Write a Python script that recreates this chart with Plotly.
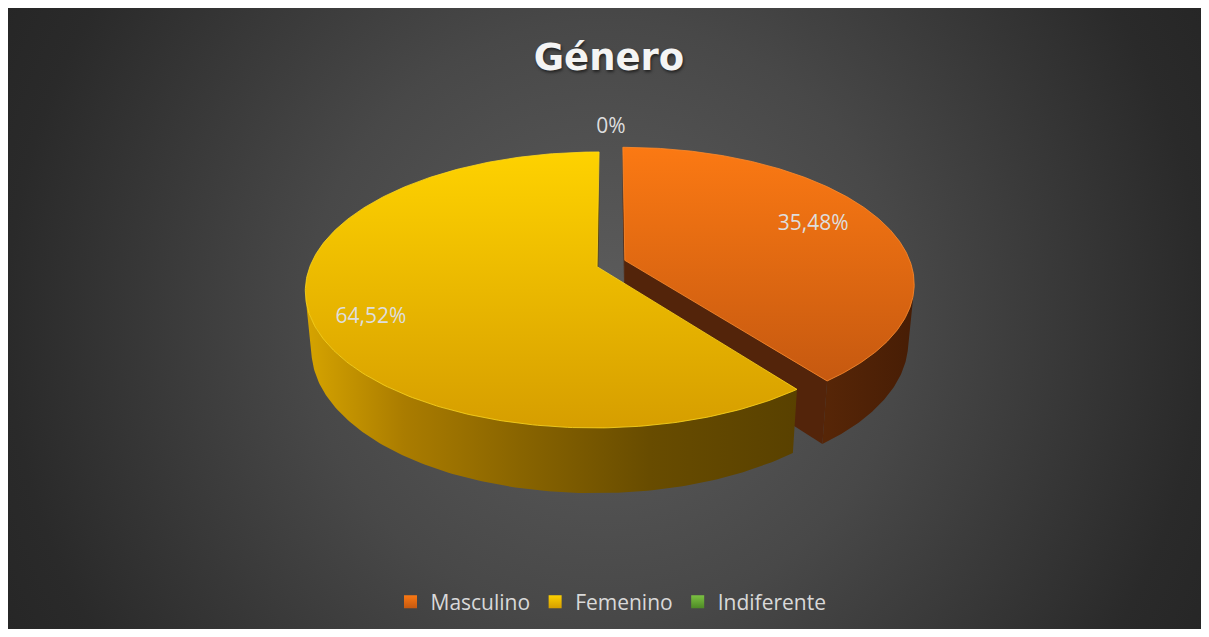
import base64
import numpy as np
import plotly.graph_objects as go

# ---------------- data ----------------
categories = ["Masculino", "Femenino", "Indiferente"]
values = [11, 20, 0]
title_text = "Género"

# ---------------- style ----------------
top_light = ["#fb7913", "#fed200", "#7cc242"]
top_dark = ["#c65910", "#d69e00", "#4e8a26"]
rim_color = ["#ff8a2a", "#ffd81a", "#8fd050"]
wall_scale = [
    [[0, "#572607"], [1, "#471d05"]],
    [[0, "#d6a400"], [0.2, "#aa7c00"], [0.45, "#876300"], [0.7, "#684c00"], [1, "#594100"]],
    [[0, "#3f6e1e"], [1, "#2c5014"]],
]
face_color = ["#53240a", "#5a4100", "#2c5014"]
label_radius = [0.75, 0.82, 1.18]
label_turn_deg = [4.0, 0.0, 0.0]

# page: the browser body keeps an 8px margin, so the figure is 1193x621 and
# the axes use screen pixel units (8..1201, 8..629)
OFF = 8
W, H = 1193, 621
CX, CY = 611.0, 263.5          # screen position of the pie centre
ALPHA = np.radians(27.2)        # viewing elevation
CA, SA = np.cos(ALPHA), np.sin(ALPHA)
DIST = 5.296                    # camera distance (in radii)
FOCY = 1541.0                   # vertical focal length (px)
FOCX = 1515.0                   # horizontal focal length (px)
THICK = 0.226                   # pie thickness (in radii)
EXPL = 0.054                    # explosion distance (in radii)
WARP = np.radians(18.6)         # Excel-like angular spread toward the front
CAM = np.array([0.0, -DIST * CA, DIST * SA])


def proj(X, Y, Z):
    X = np.asarray(X, float); Y = np.asarray(Y, float); Z = np.asarray(Z, float)
    depth = DIST + Y * CA - Z * SA
    up = Y * SA + Z * CA
    return CX + FOCX * X / depth, CY - FOCY * up / depth


def warp(t):
    return t + WARP * np.sin(t)


total = float(sum(values))
fracs = [v / total for v in values]
cum = np.concatenate([[0.0], np.cumsum(fracs)])
pct_text = []
for f in fracs:
    p = round(f * 100, 2)
    pct_text.append("0%" if p == 0 else (f"{p:.2f}%").replace(".", ","))

fig = go.Figure()

slices = []
for i, f in enumerate(fracs):
    a0, a1 = 2 * np.pi * cum[i], 2 * np.pi * cum[i + 1]
    mid = (a0 + a1) / 2
    ox, oy = EXPL * np.sin(mid), EXPL * np.cos(mid)
    slices.append(dict(i=i, a0=a0, a1=a1, mid=mid, ox=ox, oy=oy, f=f))

# draw far slices first
for sl in sorted([s for s in slices if s["f"] > 0], key=lambda s: -s["oy"]):
    i, ox, oy = sl["i"], sl["ox"], sl["oy"]
    p0, p1 = warp(sl["a0"]), warp(sl["a1"])
    th = np.linspace(p0, p1, 260)

    # outer wall (visible part)
    vis = (-1 - np.sin(th) * ox - np.cos(th) * (DIST * CA + oy)) > 0
    if vis.any():
        tv = th[vis]
        xt, yt = proj(ox + np.sin(tv), oy + np.cos(tv), 0 * tv)
        xb, yb = proj(ox + np.sin(tv), oy + np.cos(tv), 0 * tv - THICK)
        xs = np.concatenate([xt, xb[::-1], xt[:1]])
        ys = np.concatenate([yt, yb[::-1], yt[:1]])
        fig.add_trace(go.Scatter(
            x=xs, y=ys, mode="lines", fill="toself", line=dict(width=0),
            fillgradient=dict(type="horizontal", colorscale=wall_scale[i],
                              start=float(xs.min()), stop=float(xs.max())),
            hoverinfo="skip", showlegend=False))

    # radial cut faces
    for ang, sign in ((p0, -1), (p1, 1)):
        n = np.array([sign * np.cos(ang), -sign * np.sin(ang), 0.0])
        P = np.array([ox + 0.5 * np.sin(ang), oy + 0.5 * np.cos(ang), -THICK / 2])
        if np.dot(n, CAM - P) > 0:
            Xs = [ox, ox + np.sin(ang), ox + np.sin(ang), ox, ox]
            Ys = [oy, oy + np.cos(ang), oy + np.cos(ang), oy, oy]
            Zs = [0, 0, -THICK, -THICK, 0]
            fx, fy = proj(Xs, Ys, Zs)
            fig.add_trace(go.Scatter(
                x=fx, y=fy, mode="lines", fill="toself", line=dict(width=0),
                fillcolor=face_color[i], hoverinfo="skip", showlegend=False))

    # top face
    xt, yt = proj(ox + np.sin(th), oy + np.cos(th), 0 * th)
    cx0, cy0 = proj(ox, oy, 0)
    xs = np.concatenate([[cx0], xt, [cx0]])
    ys = np.concatenate([[cy0], yt, [cy0]])
    fig.add_trace(go.Scatter(
        x=xs, y=ys, mode="lines", fill="toself",
        line=dict(width=0.8, color=rim_color[i]),
        fillgradient=dict(type="vertical", colorscale=[[0, top_light[i]], [1, top_dark[i]]],
                          start=float(ys.min()), stop=float(ys.max())),
        hoverinfo="skip", showlegend=False))

# data labels
lx, ly = [], []
for sl in slices:
    r = label_radius[sl["i"]]
    a = sl["mid"] + np.radians(label_turn_deg[sl["i"]])
    x, y = proj(sl["ox"] + r * np.sin(a), sl["oy"] + r * np.cos(a), 0.0)
    lx.append(float(x)); ly.append(float(y))
fig.add_trace(go.Scatter(
    x=lx, y=ly, mode="text", text=pct_text,
    textfont=dict(family="Open Sans", size=21, color="#dedede"),
    hoverinfo="skip", showlegend=False))

# legend entries
for i, name in enumerate(categories):
    fig.add_trace(go.Scatter(
        x=[None], y=[None], mode="markers", name=name,
        marker=dict(symbol="square", size=13, color=top_light[i],
                    line=dict(width=0),
                    gradient=dict(type="vertical", color=top_dark[i]))))

# background radial gradient (screen px 8..1201 x 8..629)
svg = (
    f'<svg xmlns="http://www.w3.org/2000/svg" width="{W}" height="{H}" viewBox="0 0 {W} {H}">'
    '<defs><radialGradient id="g" gradientUnits="userSpaceOnUse" cx="597" cy="312" r="680">'
    '<stop offset="0" stop-color="#5d5d5d"/>'
    '<stop offset="0.44" stop-color="#484848"/>'
    '<stop offset="0.88" stop-color="#2a2a2a"/>'
    '<stop offset="1" stop-color="#262626"/>'
    '</radialGradient></defs>'
    f'<rect x="0" y="0" width="{W}" height="{H}" fill="url(#g)"/></svg>'
)
bg_src = "data:image/svg+xml;base64," + base64.b64encode(svg.encode()).decode()

fig.update_layout(
    width=W, height=H,
    margin=dict(l=0, r=0, t=0, b=0),
    paper_bgcolor="#ffffff",
    plot_bgcolor="rgba(0,0,0,0)",
    xaxis=dict(range=[OFF, OFF + W], visible=False, fixedrange=True),
    yaxis=dict(range=[OFF + H, OFF], visible=False, fixedrange=True),
    images=[dict(source=bg_src, xref="paper", yref="paper",
                 x=0, y=1, sizex=1, sizey=1,
                 xanchor="left", yanchor="top", sizing="stretch", layer="below")],
    title=dict(text=title_text, x=(609 - OFF) / W, xanchor="center",
               y=1 - (57 - OFF) / H, yanchor="middle",
               font=dict(family="DejaVu Sans", size=37, color="#f4f4f4", weight="bold",
                         shadow="1px 2px 3px rgba(0,0,0,0.55)")),
    showlegend=True,
    legend=dict(orientation="h", x=(611 - OFF) / W, xanchor="center",
                y=1 - (602 - OFF) / H, yanchor="middle",
                font=dict(family="Open Sans", size=21, color="#d9d9d9"),
                bgcolor="rgba(0,0,0,0)", itemclick=False, itemdoubleclick=False),
    hovermode=False,
)

fig.write_html("out.html")
